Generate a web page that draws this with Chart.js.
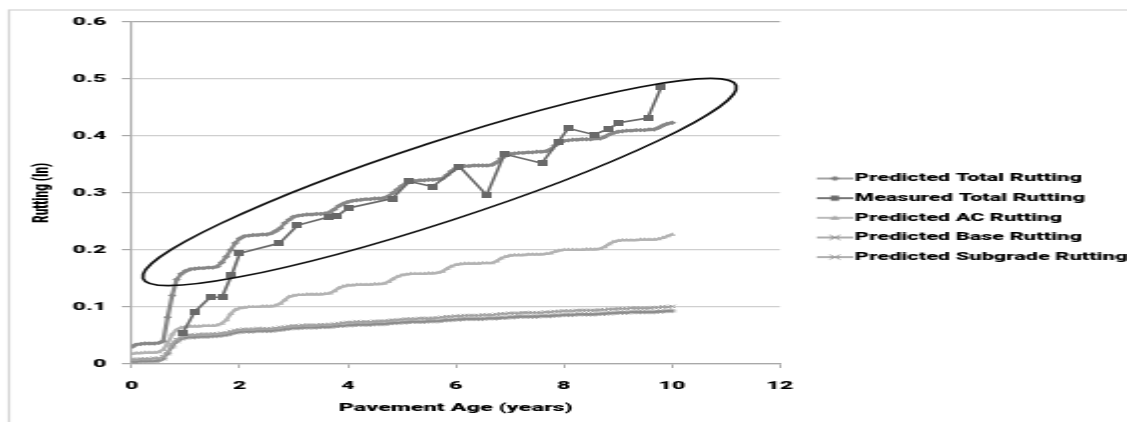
<!DOCTYPE html>
<html>
<head>
<meta charset="utf-8">
<title>Rutting vs Pavement Age</title>
<script src="https://cdn.jsdelivr.net/npm/chart.js@4.4.1/dist/chart.umd.min.js"></script>
<style>
  html, body { margin: 0; padding: 0; background: #ffffff; overflow: hidden; }
  #rutting { display: block; }
</style>
</head>
<body>
<!-- the drawing surface is rendered at half width and widened to the page -->
<canvas id="rutting" width="564" height="422" style="width:1127px;height:422px"></canvas>
<script>
// ---- data ---------------------------------------------------------------
const seriesNames = [
  'Predicted Total Rutting',
  'Measured Total Rutting',
  'Predicted AC Rutting',
  'Predicted Base Rutting',
  'Predicted Subgrade Rutting'
];

// monthly predictions (in), month 0 .. month 120 of service
const predictedTotal = [
  0.030, 0.034, 0.035, 0.036, 0.036, 0.036, 0.037, 0.040, 0.082, 0.120, 0.148, 0.158,
  0.163, 0.166, 0.167, 0.168, 0.168, 0.169, 0.169, 0.171, 0.178, 0.188, 0.200, 0.212,
  0.220, 0.224, 0.225, 0.226, 0.226, 0.227, 0.227, 0.229, 0.233, 0.238, 0.247, 0.253,
  0.258, 0.260, 0.261, 0.262, 0.262, 0.263, 0.263, 0.264, 0.266, 0.271, 0.277, 0.281,
  0.284, 0.286, 0.287, 0.288, 0.289, 0.289, 0.290, 0.290, 0.291, 0.294, 0.300, 0.306,
  0.312, 0.317, 0.320, 0.321, 0.322, 0.322, 0.323, 0.323, 0.324, 0.325, 0.331, 0.338,
  0.343, 0.346, 0.347, 0.347, 0.348, 0.348, 0.348, 0.348, 0.349, 0.353, 0.360, 0.365,
  0.368, 0.369, 0.370, 0.370, 0.371, 0.371, 0.372, 0.372, 0.373, 0.376, 0.383, 0.388,
  0.391, 0.392, 0.393, 0.393, 0.394, 0.394, 0.394, 0.395, 0.395, 0.398, 0.402, 0.405,
  0.407, 0.408, 0.409, 0.409, 0.410, 0.410, 0.410, 0.411, 0.411, 0.414, 0.418, 0.421,
  0.423
];

const predictedAC = [
  0.018, 0.019, 0.019, 0.020, 0.020, 0.020, 0.021, 0.025, 0.036, 0.052, 0.060, 0.064,
  0.065, 0.066, 0.066, 0.066, 0.067, 0.067, 0.067, 0.068, 0.071, 0.077, 0.088, 0.095,
  0.098, 0.099, 0.100, 0.100, 0.100, 0.101, 0.101, 0.101, 0.103, 0.106, 0.112, 0.118,
  0.120, 0.121, 0.121, 0.122, 0.122, 0.122, 0.122, 0.123, 0.124, 0.128, 0.133, 0.136,
  0.138, 0.138, 0.139, 0.139, 0.139, 0.139, 0.140, 0.140, 0.141, 0.144, 0.149, 0.153,
  0.156, 0.157, 0.158, 0.158, 0.158, 0.158, 0.159, 0.159, 0.160, 0.162, 0.167, 0.171,
  0.174, 0.175, 0.176, 0.176, 0.176, 0.176, 0.177, 0.177, 0.177, 0.180, 0.185, 0.188,
  0.190, 0.191, 0.191, 0.191, 0.192, 0.192, 0.192, 0.192, 0.193, 0.194, 0.197, 0.199,
  0.200, 0.200, 0.200, 0.200, 0.200, 0.201, 0.201, 0.201, 0.202, 0.205, 0.210, 0.214,
  0.216, 0.217, 0.217, 0.217, 0.217, 0.218, 0.218, 0.218, 0.218, 0.219, 0.221, 0.224,
  0.227
];

const predictedBase = [
  0.008, 0.008, 0.009, 0.009, 0.009, 0.010, 0.010, 0.013, 0.022, 0.035, 0.043, 0.047,
  0.050, 0.051, 0.051, 0.052, 0.052, 0.052, 0.053, 0.053, 0.054, 0.055, 0.057, 0.059,
  0.060, 0.061, 0.061, 0.061, 0.062, 0.062, 0.062, 0.062, 0.063, 0.064, 0.065, 0.066,
  0.067, 0.067, 0.068, 0.068, 0.068, 0.068, 0.069, 0.069, 0.069, 0.070, 0.071, 0.072,
  0.073, 0.073, 0.074, 0.074, 0.074, 0.074, 0.075, 0.075, 0.075, 0.076, 0.077, 0.077,
  0.078, 0.079, 0.079, 0.079, 0.080, 0.080, 0.080, 0.080, 0.081, 0.082, 0.083, 0.083,
  0.084, 0.084, 0.085, 0.085, 0.085, 0.085, 0.086, 0.086, 0.086, 0.087, 0.088, 0.088,
  0.089, 0.089, 0.089, 0.090, 0.090, 0.090, 0.090, 0.090, 0.091, 0.091, 0.092, 0.092,
  0.093, 0.093, 0.093, 0.094, 0.094, 0.094, 0.094, 0.094, 0.095, 0.095, 0.096, 0.096,
  0.097, 0.097, 0.097, 0.098, 0.098, 0.098, 0.098, 0.098, 0.099, 0.099, 0.100, 0.100,
  0.101
];

const predictedSubgrade = [
  0.004, 0.004, 0.005, 0.005, 0.005, 0.005, 0.006, 0.009, 0.018, 0.030, 0.039, 0.044,
  0.046, 0.047, 0.047, 0.048, 0.048, 0.048, 0.049, 0.049, 0.050, 0.051, 0.053, 0.055,
  0.056, 0.057, 0.057, 0.057, 0.058, 0.058, 0.058, 0.058, 0.059, 0.060, 0.061, 0.062,
  0.063, 0.063, 0.064, 0.064, 0.064, 0.064, 0.065, 0.065, 0.065, 0.066, 0.067, 0.067,
  0.068, 0.068, 0.069, 0.069, 0.069, 0.069, 0.070, 0.070, 0.070, 0.071, 0.072, 0.072,
  0.073, 0.073, 0.074, 0.074, 0.074, 0.074, 0.075, 0.075, 0.075, 0.076, 0.077, 0.077,
  0.078, 0.078, 0.079, 0.079, 0.079, 0.079, 0.079, 0.080, 0.080, 0.080, 0.081, 0.081,
  0.082, 0.082, 0.083, 0.083, 0.083, 0.083, 0.083, 0.084, 0.084, 0.084, 0.085, 0.085,
  0.086, 0.086, 0.086, 0.087, 0.087, 0.087, 0.087, 0.087, 0.088, 0.088, 0.089, 0.089,
  0.090, 0.090, 0.090, 0.091, 0.091, 0.091, 0.091, 0.091, 0.091, 0.092, 0.092, 0.093,
  0.093
];

// field surveys: pavement age (years) and total rut depth (in)
const measuredAge = [0.95, 1.17, 1.45, 1.67, 1.85, 2.00, 2.74, 3.07, 3.66, 3.80, 4.00,
  4.82, 5.14, 5.57, 6.07, 6.57, 6.90, 7.59, 7.90, 8.08, 8.56, 8.83, 9.02, 9.55, 9.80];
const measuredTotal = [0.055, 0.092, 0.117, 0.117, 0.156, 0.194, 0.212, 0.243, 0.258, 0.259, 0.273,
  0.290, 0.320, 0.311, 0.346, 0.296, 0.368, 0.352, 0.390, 0.413, 0.402, 0.412, 0.423, 0.431, 0.485];

// outline drawn round the total-rutting band, in axis units (years, in)
const envelopeCenter = [5.70, 0.319];
const envelopeMajor = [5.49, 0.169];
const envelopeMinor = [0.229, -0.0667];

// ---- helpers ------------------------------------------------------------
const monthly = values => values.map((v, m) => ({ x: m / 12, y: v }));

function shapePath(ctx, shape, cx, cy, r) {
  ctx.beginPath();
  if (shape === 'diamond') {
    ctx.moveTo(cx, cy - r); ctx.lineTo(cx + r, cy); ctx.lineTo(cx, cy + r); ctx.lineTo(cx - r, cy); ctx.closePath();
  } else if (shape === 'square') {
    ctx.rect(cx - r * 0.8, cy - r, r * 1.6, r * 2);
  } else if (shape === 'triangle') {
    ctx.moveTo(cx, cy - r); ctx.lineTo(cx + r, cy + r * 0.8); ctx.lineTo(cx - r, cy + r * 0.8); ctx.closePath();
  } else if (shape === 'cross') {
    ctx.moveTo(cx - r, cy - r); ctx.lineTo(cx + r, cy + r); ctx.moveTo(cx + r, cy - r); ctx.lineTo(cx - r, cy + r);
  } else if (shape === 'star') {
    ctx.moveTo(cx - r, cy - r); ctx.lineTo(cx + r, cy + r); ctx.moveTo(cx + r, cy - r); ctx.lineTo(cx - r, cy + r);
    ctx.moveTo(cx - r, cy); ctx.lineTo(cx + r, cy);
  }
}

function legendSwatch(color, markerColor, shape, lineWidth) {
  const c = document.createElement('canvas');
  c.width = 32; c.height = 10;
  const g = c.getContext('2d');
  g.strokeStyle = color; g.lineWidth = lineWidth;
  g.beginPath(); g.moveTo(14, 5); g.lineTo(32, 5); g.stroke();
  shapePath(g, shape, 23, 5, 2.6);
  if (shape === 'cross' || shape === 'star') {
    g.strokeStyle = markerColor; g.lineWidth = 1; g.stroke();
  } else {
    g.fillStyle = markerColor; g.fill();
  }
  return c;
}

function squareMarker(color) {
  const c = document.createElement('canvas');
  c.width = 5; c.height = 6;
  const g = c.getContext('2d');
  g.fillStyle = color; g.fillRect(0, 0, 5, 6);
  return c;
}

const colTotal = '#878787';
const colMeasured = '#696969';
const colAC = '#b3b3b3';
const colBase = '#a2a2a2';
const colSub = '#8d8d8d';

const legendSwatches = [
  legendSwatch('#7d7d7d', '#7d7d7d', 'diamond', 1.4),
  legendSwatch('#666666', '#6a6a6a', 'square', 1.8),
  legendSwatch('#ababab', '#ababab', 'triangle', 1.6),
  legendSwatch('#8a8a8a', '#8a8a8a', 'cross', 1.4),
  legendSwatch('#9c9c9c', '#9c9c9c', 'star', 1.6)
];

// light frame round the whole chart
const chartFrame = {
  id: 'chartFrame',
  beforeDraw(chart) {
    const ctx = chart.ctx;
    ctx.save();
    ctx.strokeStyle = '#d2d2d2';
    ctx.lineWidth = 1.2;
    ctx.strokeRect(4.5, 10, chart.width + 20, chart.height + 20);
    ctx.restore();
  }
};

// ellipse outline over the total-rutting curves
const envelope = {
  id: 'envelope',
  afterDatasetsDraw(chart) {
    const { ctx, scales: { x, y } } = chart;
    const cx = x.getPixelForValue(envelopeCenter[0]);
    const cy = y.getPixelForValue(envelopeCenter[1]);
    const ux = x.getPixelForValue(envelopeCenter[0] + envelopeMajor[0]) - cx;
    const uy = y.getPixelForValue(envelopeCenter[1] + envelopeMajor[1]) - cy;
    const vx = x.getPixelForValue(envelopeCenter[0] + envelopeMinor[0]) - cx;
    const vy = y.getPixelForValue(envelopeCenter[1] + envelopeMinor[1]) - cy;
    ctx.save();
    ctx.beginPath();
    ctx.transform(ux, uy, vx, vy, cx, cy);
    ctx.arc(0, 0, 1, 0, Math.PI * 2);
    ctx.restore();
    ctx.save();
    ctx.strokeStyle = '#111111';
    ctx.lineWidth = 1.6;
    ctx.stroke();
    ctx.restore();
  }
};

const heavyFont = (size, lineHeight) => ({ family: 'Roboto, Lato, sans-serif', weight: 900, size: size, lineHeight: lineHeight });

new Chart(document.getElementById('rutting'), {
  type: 'line',
  data: {
    datasets: [
      {
        label: seriesNames[0],
        data: monthly(predictedTotal),
        borderColor: colTotal, backgroundColor: colTotal,
        borderWidth: 2.2, pointStyle: 'rectRot', pointRadius: 2.2,
        pointBorderWidth: 0, order: 1
      },
      {
        label: seriesNames[1],
        data: measuredAge.map((a, i) => ({ x: a, y: measuredTotal[i] })),
        borderColor: colMeasured, backgroundColor: colMeasured,
        borderWidth: 1.6, pointStyle: squareMarker(colMeasured), pointRadius: 3,
        order: 0
      },
      {
        label: seriesNames[2],
        data: monthly(predictedAC),
        borderColor: colAC, backgroundColor: colAC,
        borderWidth: 2.2, pointStyle: 'triangle', pointRadius: 2.3,
        pointBorderWidth: 0, order: 2
      },
      {
        label: seriesNames[3],
        data: monthly(predictedBase),
        borderColor: colBase, backgroundColor: colBase,
        borderWidth: 1.6, pointStyle: 'crossRot', pointRadius: 2.4,
        pointBorderWidth: 1, order: 3
      },
      {
        label: seriesNames[4],
        data: monthly(predictedSubgrade),
        borderColor: colSub, backgroundColor: colSub,
        borderWidth: 1.6, pointStyle: 'star', pointRadius: 2.2,
        pointBorderWidth: 0.8, order: 4
      }
    ]
  },
  options: {
    responsive: false,
    animation: false,
    devicePixelRatio: 1,
    layout: { padding: { left: 8, top: 21.7, right: 0, bottom: 8.1 } },
    elements: { line: { tension: 0 }, point: { hoverRadius: 3 } },
    plugins: {
      tooltip: { enabled: false },
      legend: {
        position: 'right',
        align: 'center',
        maxWidth: 173.7,
        labels: {
          usePointStyle: true,
          pointStyleWidth: 23.35,
          padding: 8.75,
          color: '#000000',
          font: heavyFont(10.9, 1.2),
          generateLabels: () => seriesNames.map((name, i) => ({
            text: name,
            pointStyle: legendSwatches[i],
            fillStyle: 'rgba(0,0,0,0)',
            strokeStyle: 'rgba(0,0,0,0)',
            lineWidth: 0,
            hidden: false,
            datasetIndex: i,
            fontColor: '#000000'
          }))
        }
      }
    },
    scales: {
      x: {
        type: 'linear',
        min: 0, max: 12,
        ticks: { stepSize: 2, color: '#000000', font: heavyFont(11.6, 1.2), padding: 10.8 },
        grid: { drawOnChartArea: false, drawTicks: true, tickLength: 4, tickColor: '#b0b0b0', tickWidth: 1 },
        border: { color: '#a8a8a8', width: 1.3 },
        title: {
          display: true, text: 'Pavement Age (years)', color: '#000000',
          font: heavyFont(11.7, 1),
          padding: { top: 0, bottom: 0 }
        },
        afterFit(scale) { scale.height = 49.9; }
      },
      y: {
        min: 0, max: 0.6,
        ticks: { stepSize: 0.1, color: '#000000', font: heavyFont(11.6, 1.2), padding: 7.6 },
        grid: {
          color: ctx => (ctx.tick && ctx.tick.value >= 0.6 ? '#a9a9a9' : '#cfcfcf'),
          lineWidth: 1.2,
          tickLength: 5,
          tickColor: '#a8a8a8'
        },
        border: { color: '#ababab', width: 1.1 },
        title: {
          display: true, text: 'Rutting (In)', color: '#000000',
          font: heavyFont(11.7, 1),
          padding: { top: 6.95, bottom: 0 }
        },
        afterFit(scale) { scale.width = 57.9; }
      }
    }
  },
  plugins: [chartFrame, envelope]
});
</script>
</body>
</html>
